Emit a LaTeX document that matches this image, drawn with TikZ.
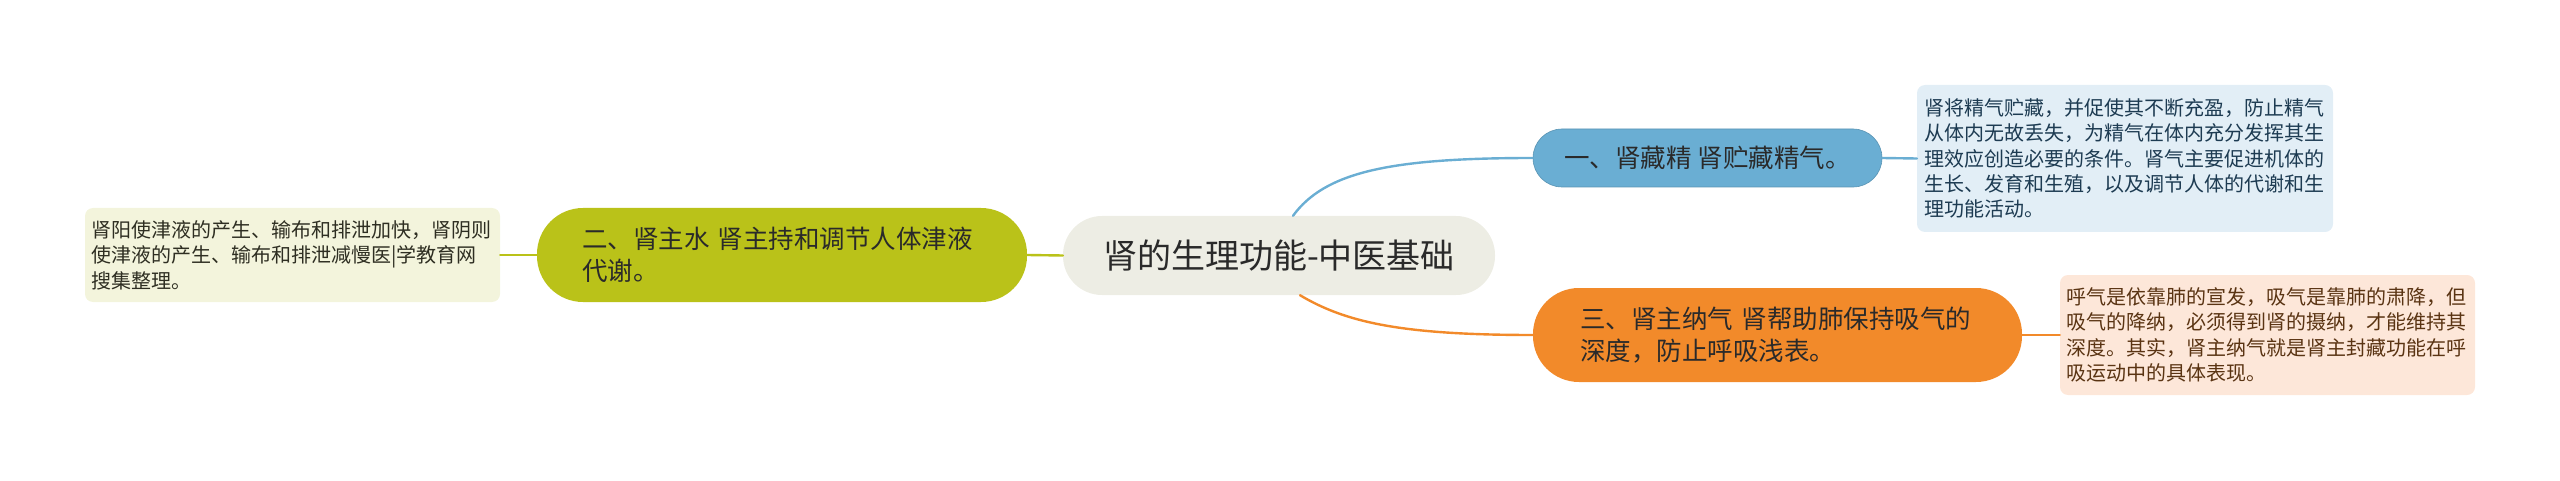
\documentclass[tikz,border=0pt]{standalone}
\usepackage{fontspec}
\setmainfont{Noto Sans CJK SC}
\definecolor{cfill}{HTML}{EDEDE4}
\definecolor{bluec}{HTML}{6AAED3}
\definecolor{olivec}{HTML}{BAC219}
\definecolor{orangec}{HTML}{F28A2A}
\definecolor{bleaf}{HTML}{E2EEF6}
\definecolor{oleaf}{HTML}{F3F4DC}
\definecolor{rleaf}{HTML}{FDE7D9}
\definecolor{txt}{HTML}{2A2A2A}
\definecolor{btxt}{HTML}{1D3B52}
\definecolor{rtxt}{HTML}{5A3413}
\definecolor{otxt}{HTML}{2E2E22}
\tikzset{
  mainnode/.style={fill=cfill, rounded corners=39pt, minimum width=432pt, minimum height=79pt, inner sep=0pt, text=txt, font=\fontsize{34}{40}\selectfont},
  topicnode/.style={rounded corners=#1, inner sep=0pt, text=txt, align=left, font=\fontsize{25.5}{32}\selectfont},
  leafnode/.style={rounded corners=8pt, inner sep=0pt, align=left, text width=402pt, font=\fontsize{20}{25.4}\selectfont},
  conn/.style={line width=2.4pt, line cap=round}
}
\begin{document}
\begin{tikzpicture}[x=1pt,y=-1pt]
\useasboundingbox (0,0) rectangle (2560,481);
% centre
\node[mainnode] (c) at (1279,255.5) {肾的生理功能-中医基础};
% topics
\node[topicnode=29pt, fill=bluec, draw=bluec!85!black, line width=0.6pt, minimum width=349pt, minimum height=58pt] (t1) at (1707.5,158) {一、肾藏精 肾贮藏精气。};
\node[topicnode=46pt, fill=olivec, minimum width=490pt, minimum height=94pt, text width=400pt] (t2) at (782,255) {二、肾主水 肾主持和调节人体津液\\代谢。};
\node[topicnode=46pt, fill=orangec, minimum width=489pt, minimum height=94pt, text width=395pt] (t3) at (1777.5,335) {三、肾主纳气 肾帮助肺保持吸气的\\深度，防止呼吸浅表。};
% leaves
\node[leafnode, fill=bleaf, text=btxt, minimum width=416pt, minimum height=147pt] (l1) at (2125,158.5) {肾将精气贮藏，并促使其不断充盈，防止精气\\从体内无故丢失，为精气在体内充分发挥其生\\理效应创造必要的条件。肾气主要促进机体的\\生长、发育和生殖，以及调节人体的代谢和生\\理功能活动。};
\node[leafnode, fill=oleaf, text=otxt, minimum width=415pt, minimum height=94pt] (l2) at (292.5,255) {肾阳使津液的产生、输布和排泄加快，肾阴则\\使津液的产生、输布和排泄减慢医|学教育网\\搜集整理。};
\node[leafnode, fill=rleaf, text=rtxt, minimum width=415pt, minimum height=120pt] (l3) at (2267.5,335) {呼气是依靠肺的宣发，吸气是靠肺的肃降，但\\吸气的降纳，必须得到肾的摄纳，才能维持其\\深度。其实，肾主纳气就是肾主封藏功能在呼\\吸运动中的具体表现。};
% connectors
\coordinate (cb) at ([xshift=14pt]c.north);
\coordinate (co) at ([xshift=21pt]c.south);
\begin{scope}[on background layer/.try]
\end{scope}
\draw[conn, draw=bluec] (cb) .. controls (1325,172) and (1390,158) .. (t1.west);
\draw[conn, draw=orangec] (co) .. controls (1345,322) and (1400,335) .. (t3.west);
\draw[conn, draw=olivec] (c.west) -- (t2.east);
\draw[conn, draw=olivec] (t2.west) -- (l2.east);
\draw[conn, draw=bluec] (t1.east) -- (l1.west);
\draw[conn, draw=orangec] (t3.east) -- (l3.west);
\end{tikzpicture}
\end{document}
